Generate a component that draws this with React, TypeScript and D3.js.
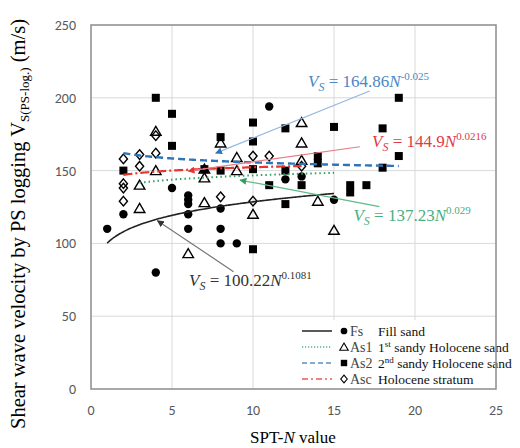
import React from "react";
import * as d3 from "d3";

// ---- data ----
const fsN = [1, 2, 4, 5, 6, 6, 6, 6, 6, 8, 8, 8, 9, 11, 12, 13, 15];
const fsVs = [110, 120, 80, 138, 133, 130, 127, 120, 110, 124, 110, 100, 100, 194, 144, 146, 130];

const as1N = [3, 3, 4, 4, 6, 7, 7, 7, 8, 9, 9, 10, 13, 13, 13, 14, 15];
const as1Vs = [124, 140, 150, 177, 93, 128, 145, 151, 169, 150, 159, 120, 183, 169, 157, 129, 109];

const as2N = [2, 4, 5, 5, 7, 8, 8, 10, 10, 10, 10, 11, 12, 12, 12, 13, 14, 14, 15, 16, 16, 17, 18, 18, 19, 19];
const as2Vs = [150, 200, 189, 167, 151, 173, 150, 183, 170, 151, 96, 140, 179, 150, 127, 140, 160, 155, 180, 140, 135, 140, 179, 152, 200, 160];

const ascN = [2, 2, 2, 2, 3, 3, 4, 4, 8, 10, 10, 11, 13];
const ascVs = [158, 141, 138, 129, 161, 153, 174, 162, 132, 129, 160, 160, 153];

// trendline coefficients Vs = a * N^b
const fitA = [100.22, 137.23, 164.86, 144.9];
const fitB = [0.1081, 0.029, -0.025, 0.0216];
const fitNmin = [1, 3, 2, 2];
const fitNmax = [15, 15, 19, 13];
const fitLabelA = ["100.22", "137.23", "164.86", "144.9"];
const fitLabelB = ["0.1081", "0.029", "-0.025", "0.0216"];
// annotation label anchor and arrow (data units)
const labelPosN = [6.05, 16.2, 13.4, 17.35];
const labelPosV = [70.7, 115.4, 207.4, 166.2];
const arrowFromN = [8.8, 17.8, 17.2, 16.6];
const arrowFromV = [80.6, 125.2, 204.7, 166.4];
const arrowToN = [4.1, 9.2, 7.7, 6.0];
const arrowToV = [115.6, 143.5, 162, 149.7];

const xTicks = [0, 5, 10, 15, 20, 25];
const yTicks = [0, 50, 100, 150, 200, 250];

const legendCodes = ["Fs", "As1", "As2", "Asc"];

const W = 520, H = 448;
const x = d3.scaleLinear().domain([0, 25]).range([91, 496]);
const y = d3.scaleLinear().domain([0, 250]).range([389, 25]);

const lineColors = ["#222222", "#2ea062", "#2f74b8", "#e8332e"];
const textColors = ["#333333", "#4aaf7f", "#4a87c5", "#df3a48"];
const leaderColors = ["#777777", "#5dbb8c", "#93b7dd", "#ea7a83"];
const dashes = [undefined, "1.5 3", "7 4", "9 3 2 3"];
const widths = [1.6, 2, 2.4, 2.2];

const serif = "'Liberation Serif', 'Times New Roman', 'DejaVu Serif', serif";
const sans = "Carlito, 'Liberation Sans', 'Open Sans', sans-serif";

function Marker({ kind, cx, cy }: { kind: number; cx: number; cy: number }) {
  if (kind === 0) return <circle cx={cx} cy={cy} r={4.2} fill="#000" />;
  if (kind === 1) {
    const s = 5;
    return (
      <path
        d={`M${cx},${cy - s}L${cx + s * 1.05},${cy + s * 0.8}L${cx - s * 1.05},${cy + s * 0.8}Z`}
        fill="none"
        stroke="#000"
        strokeWidth={1.4}
      />
    );
  }
  if (kind === 2) return <rect x={cx - 4} y={cy - 4} width={8} height={8} fill="#000" />;
  const s = 4.8;
  return (
    <path
      d={`M${cx},${cy - s}L${cx + s * 0.85},${cy}L${cx},${cy + s}L${cx - s * 0.85},${cy}Z`}
      fill="none"
      stroke="#000"
      strokeWidth={1.4}
    />
  );
}

export default function App() {
  const series = [
    { n: fsN, v: fsVs },
    { n: as1N, v: as1Vs },
    { n: as2N, v: as2Vs },
    { n: ascN, v: ascVs },
  ];
  const lineGen = d3
    .line<[number, number]>()
    .x((d) => x(d[0]))
    .y((d) => y(d[1]))
    .curve(d3.curveMonotoneX);

  const curves = fitA.map((a, i) => {
    const pts: [number, number][] = d3
      .range(fitNmin[i], fitNmax[i] + 0.001, 0.1)
      .map((n) => [n, a * Math.pow(n, fitB[i])]);
    return lineGen(pts) || "";
  });

  const legendX = 300;
  const legendY0 = 331;
  const legendDy = 16;

  return (
    <svg
      width={W}
      height={H}
      style={{ position: "absolute", left: 0, top: 0, background: "#fff" }}
    >
      <defs>
        {leaderColors.map((c, i) => (
          <marker
            key={i}
            id={`arr${i}`}
            viewBox="0 0 10 10"
            refX={9}
            refY={5}
            markerWidth={7}
            markerHeight={7}
            orient="auto-start-reverse"
            markerUnits="userSpaceOnUse"
          >
            <path d="M0,0L10,5L0,10Z" fill={lineColors[i] === "#222222" ? "#333" : lineColors[i]} />
          </marker>
        ))}
      </defs>

      {/* gridlines */}
      {xTicks.slice(1, -1).map((t) => (
        <line key={`gx${t}`} x1={x(t)} x2={x(t)} y1={y(0)} y2={y(250)} stroke="#d9d9d9" strokeWidth={1} />
      ))}
      {yTicks.slice(1, -1).map((t) => (
        <line key={`gy${t}`} x1={x(0)} x2={x(25)} y1={y(t)} y2={y(t)} stroke="#d9d9d9" strokeWidth={1} />
      ))}

      {/* markers */}
      {series.map((s, k) =>
        s.n.map((n, j) => <Marker key={`m${k}-${j}`} kind={k} cx={x(n)} cy={y(s.v[j])} />)
      )}

      {/* trendlines */}
      {curves.map((d, i) => (
        <path
          key={`c${i}`}
          d={d}
          fill="none"
          stroke={lineColors[i]}
          strokeWidth={widths[i]}
          strokeDasharray={dashes[i]}
        />
      ))}

      {/* leader arrows */}
      {fitA.map((_, i) => (
        <line
          key={`a${i}`}
          x1={x(arrowFromN[i])}
          y1={y(arrowFromV[i])}
          x2={x(arrowToN[i])}
          y2={y(arrowToV[i])}
          stroke={leaderColors[i]}
          strokeWidth={1.2}
          markerEnd={`url(#arr${i})`}
        />
      ))}

      {/* equation labels */}
      {fitA.map((_, i) => (
        <text
          key={`t${i}`}
          x={x(labelPosN[i])}
          y={y(labelPosV[i])}
          fill={textColors[i]}
          fontFamily={serif}
          fontSize={17}
        >
          <tspan fontStyle="italic">V</tspan>
          <tspan fontStyle="italic" fontSize={12} dy={4}>
            S
          </tspan>
          <tspan dy={-4}>{` = ${fitLabelA[i]}`}</tspan>
          <tspan fontStyle="italic">N</tspan>
          <tspan fontSize={11} dy={-7}>
            {fitLabelB[i]}
          </tspan>
        </text>
      ))}

      {/* legend */}
      <rect x={297} y={320} width={198} height={68} fill="#fff" />
      {legendCodes.map((c, i) => {
        const ly = legendY0 + i * legendDy;
        return (
          <g key={`l${i}`}>
            <line
              x1={legendX + 2}
              x2={legendX + 32}
              y1={ly}
              y2={ly}
              stroke={lineColors[i]}
              strokeWidth={i === 0 ? 1.5 : 1.4}
              strokeDasharray={i === 1 ? "1.2 1.8" : i === 2 ? "5 3" : i === 3 ? "6 3 2 3" : undefined}
              opacity={i === 0 ? 1 : 0.8}
            />
            <g transform={`translate(${legendX + 44},${ly}) scale(0.8) translate(${-(legendX + 44)},${-ly})`}>
              <Marker kind={i} cx={legendX + 44} cy={ly} />
            </g>
            <text x={legendX + 50} y={ly + 5} fontFamily={serif} fontSize={14} fill="#444">
              {c}
            </text>
          </g>
        );
      })}
      <text x={378} y={legendY0 + 5} fontFamily={serif} fontSize={13.5} fill="#111">
        Fill sand
      </text>
      <text x={378} y={legendY0 + legendDy + 5} fontFamily={serif} fontSize={13.5} fill="#111">
        1<tspan fontSize={9} dy={-5}>st</tspan>
        <tspan dy={5}> sandy Holocene sand</tspan>
      </text>
      <text x={378} y={legendY0 + 2 * legendDy + 5} fontFamily={serif} fontSize={13.5} fill="#111">
        2<tspan fontSize={9} dy={-5}>nd</tspan>
        <tspan dy={5}> sandy Holocene sand</tspan>
      </text>
      <text x={378} y={legendY0 + 3 * legendDy + 5} fontFamily={serif} fontSize={13.5} fill="#111">
        Holocene stratum
      </text>

      {/* plot border */}
      <rect
        x={x(0)}
        y={y(250)}
        width={x(25) - x(0)}
        height={y(0) - y(250)}
        fill="none"
        stroke="#8c8c8c"
        strokeWidth={1.5}
      />

      {/* tick labels */}
      {yTicks.map((t) => (
        <text
          key={`yl${t}`}
          x={76}
          y={y(t) + 5}
          textAnchor="end"
          fontFamily={sans}
          fontSize={14}
          fill="#595959"
        >
          {t}
        </text>
      ))}
      {xTicks.map((t) => (
        <text
          key={`xl${t}`}
          x={x(t)}
          y={415}
          textAnchor="middle"
          fontFamily={sans}
          fontSize={14}
          fill="#595959"
        >
          {t}
        </text>
      ))}

      {/* axis titles */}
      <text x={293} y={443} textAnchor="middle" fontFamily={serif} fontSize={17} fill="#000">
        SPT-<tspan fontStyle="italic">N</tspan> value
      </text>
      <text
        transform={`translate(25,${224}) rotate(-90)`}
        textAnchor="middle"
        fontFamily={serif}
        fontSize={20.5}
        fill="#000"
      >
        Shear wave velocity by PS logging V
        <tspan fontSize={13} dy={4}>
          S(PS-log.)
        </tspan>
        <tspan dy={-4}> (m/s)</tspan>
      </text>
    </svg>
  );
}
